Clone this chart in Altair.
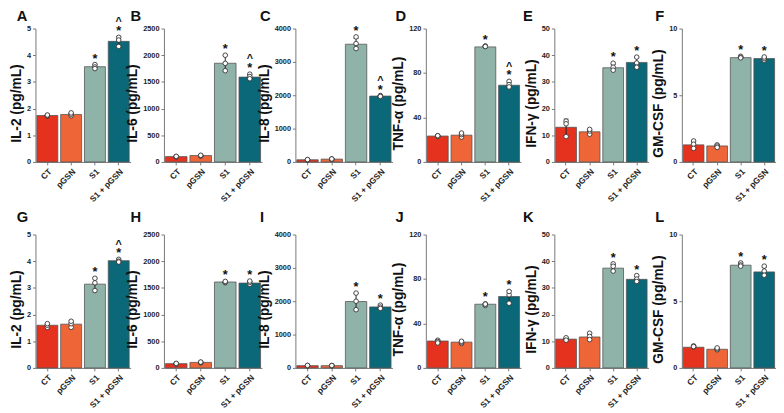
import altair as alt
import pandas as pd
import numpy as np

groups = ["CT", "pGSN", "S1", "S1 + pGSN"]
colors = ["#E4321E", "#EE6538", "#8FB3A9", "#0B6878"]

letters = ["A", "B", "C", "D", "E", "F", "G", "H", "I", "J", "K", "L"]
ytitles = ["IL-2 (pg/mL)", "IL-6 (pg/mL)", "IL-8 (pg/mL)", "TNF-α (pg/mL)",
           "IFN-γ (pg/mL)", "GM-CSF (pg/mL)"] * 2
ymax = [5, 2500, 4000, 120, 50, 10] * 2
yticks = [[0, 1, 2, 3, 4, 5], [0, 500, 1000, 1500, 2000, 2500],
          [0, 1000, 2000, 3000, 4000], [0, 40, 80, 120],
          [0, 10, 20, 30, 40, 50], [0, 5, 10]] * 2

means = [
    [1.74, 1.78, 3.57, 4.52],
    [100, 120, 1850, 1590],
    [65, 85, 3530, 1975],
    [23.3, 24.1, 103.5, 69],
    [13.0, 11.3, 35.3, 37.3],
    [1.28, 1.20, 7.82, 7.75],
    [1.60, 1.64, 3.14, 4.02],
    [80, 104, 1610, 1590],
    [68, 68, 1990, 1830],
    [24.2, 23.2, 57.3, 64.2],
    [10.8, 11.6, 37.4, 33.2],
    [1.55, 1.40, 7.70, 7.20],
]

points = [
    [[1.72, 1.74, 1.76], [1.73, 1.79, 1.84], [3.65, 3.56, 3.50], [4.67, 4.57, 4.33]],
    [[95, 100, 105], [110, 118, 125], [2000, 1848, 1710], [1645, 1600, 1560]],
    [[60, 65, 72], [80, 85, 90], [3750, 3550, 3400], [1990, 1975, 1965]],
    [[23.0, 23.5, 23.6], [22.4, 24.7, 26.0], [104.3, 104.0, 103.8], [72.5, 69.5, 67.5]],
    [[15.3, 14.3, 9.5], [10.4, 11.6, 12.2], [37.0, 35.5, 34.4], [39.3, 37.1, 35.5]],
    [[1.57, 1.33, 1.02], [1.28, 1.19, 1.09], [7.92, 7.84, 7.80], [7.63, 7.75, 7.87]],
    [[1.52, 1.60, 1.66], [1.52, 1.66, 1.75], [3.36, 3.19, 2.90], [4.07, 4.00, 3.97]],
    [[75, 80, 85], [95, 105, 110], [1598, 1604, 1622], [1568, 1604, 1628]],
    [[60, 70, 75], [65, 70, 72], [2244, 2000, 1746], [1883, 1824, 1785]],
    [[24.9, 23.7, 22.5], [22.0, 23.1, 24.0], [56.2, 57.6, 57.4], [58.2, 65.8, 68.8]],
    [[10.8, 11.3, 10.4], [13.0, 11.8, 10.6], [39.0, 38.1, 36.3], [34.6, 33.3, 32.4]],
    [[1.65, 1.57, 1.60], [1.36, 1.43, 1.50], [7.87, 7.72, 7.63], [7.63, 7.26, 6.95]],
]

stars = [[0, 0, 1, 1]] * 12
carets = [[0, 0, 0, 1]] * 4 + [[0, 0, 0, 0]] * 2 + [[0, 0, 0, 1]] + [[0, 0, 0, 0]] * 5

# layout (style) parameters
widths = [97, 100, 99, 97, 96, 96]
letter_dx = [-19, -34, -36, -31, -32, -27]
letter_dy = [-8, -13]
FONT = "Liberation Sans"
jitter = [-3, 0, 3]
PH = 136


def panel(i):
    col = i % 6
    row = i // 6
    bars = pd.DataFrame({"group": groups, "mean": means[i]})
    rows = []
    for g, vals in zip(groups, points[i]):
        for k, v in enumerate(vals):
            rows.append({"group": g, "value": v, "k": k})
    pts = pd.DataFrame(rows)
    sd = pts.groupby("group")["value"].std().reindex(groups).values
    bars["lo"] = bars["mean"] - sd
    bars["hi"] = bars["mean"] + sd
    pmax = pts.groupby("group")["value"].max().reindex(groups).values
    bars["top"] = np.maximum(pmax, bars["hi"].values)
    bars["star"] = stars[i]
    bars["caret"] = carets[i]

    xaxis = alt.Axis(labelAngle=-45, labelFontSize=8.5, labelFontWeight="bold",
                     labelColor="#222", labelFont=FONT, tickSize=3,
                     domainColor="#777", tickColor="#777", labelPadding=2)
    xscale = alt.Scale(paddingInner=0.12, paddingOuter=0.06)
    yscale = alt.Scale(domain=[0, ymax[i]], nice=False)
    yaxis = alt.Axis(values=yticks[i], format="d", labelOverlap=False,
                     titleFontSize=14, titleY=PH / 2 + 8,
                     titleFontWeight="bold", titleFont=FONT, titleColor="#111",
                     labelFontSize=7.5, labelFontWeight="bold", labelColor="#222",
                     labelFont=FONT, tickSize=3, domainColor="#777", tickColor="#777",
                     grid=False, titlePadding=3, labelPadding=2)

    def X():
        return alt.X("group:N", sort=groups, title=None, scale=xscale, axis=xaxis)

    def Y(field):
        return alt.Y(field, scale=yscale, axis=yaxis, title=ytitles[i])

    base = alt.Chart(bars)
    b = base.mark_bar(stroke="#555", strokeWidth=0.8).encode(
        x=X(), y=Y("mean:Q"),
        color=alt.Color("group:N", scale=alt.Scale(domain=groups, range=colors), legend=None),
    )
    err = base.mark_rule(color="#222", strokeWidth=1).encode(
        x=X(), y=Y("lo:Q"), y2="hi:Q")
    cap = base.mark_tick(color="#222", thickness=1, size=5).encode(
        x=X(), y=Y("hi:Q"))
    layers = [b, err, cap]
    for k in range(3):
        layers.append(
            alt.Chart(pts[pts["k"] == k]).mark_point(
                filled=True, fill="white", stroke="#333", strokeWidth=0.9,
                size=22, opacity=1, dx=jitter[k]
            ).encode(x=X(), y=Y("value:Q"))
        )
    st = base.transform_filter("datum.star == 1").mark_text(
        text="*", fontSize=13, fontWeight="bold", font=FONT, color="#111",
        baseline="middle", dy=-6
    ).encode(x=X(), y=Y("top:Q"))
    ca = base.transform_filter("datum.caret == 1").mark_text(
        text="^", fontSize=11, fontWeight="bold", font=FONT, color="#111",
        baseline="middle", dy=-15
    ).encode(x=X(), y=Y("top:Q"))
    lab = alt.Chart(pd.DataFrame({"letter": [letters[i]]})).mark_text(
        fontSize=15, fontWeight="bold", font=FONT, color="#111",
        align="left", baseline="alphabetic"
    ).encode(x=alt.value(letter_dx[col]), y=alt.value(letter_dy[row]), text="letter:N")
    layers += [st, ca, lab]
    return alt.layer(*layers).properties(width=widths[col], height=PH)


chart = alt.concat(*[panel(i) for i in range(12)], columns=6,
                   spacing=alt.RowColnumber(row=74, column=34), bounds="flush").properties(
    padding={"left": 1, "top": -3, "right": 0, "bottom": 0}
).configure_view(strokeWidth=0)

chart.save("out.html", embed_options={"renderer": "svg", "actions": False})
